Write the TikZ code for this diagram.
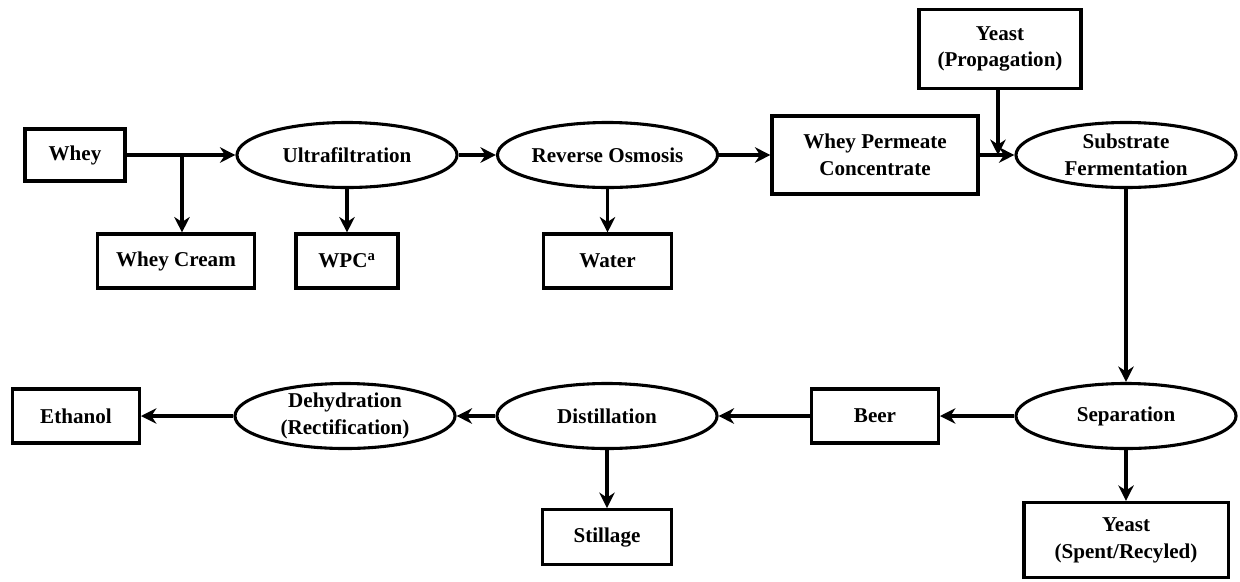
\documentclass[tikz,border=0pt]{standalone}
\usepackage{fontspec}
\setmainfont{Liberation Serif}
\usetikzlibrary{arrows.meta,positioning,shapes.geometric}
\tikzset{
  box/.style={rectangle, draw=black, line width=2.2pt, inner sep=0pt, align=center,
    font=\fontsize{15}{19}\selectfont\bfseries},
  proc/.style={ellipse, draw=black, line width=2.2pt, inner sep=0pt, align=center,
    minimum width=5.5cm, minimum height=1.625cm,
    font=\fontsize{15}{19}\selectfont\bfseries},
  link/.style={-{Stealth[length=11pt,width=11pt]}, line width=2.2pt},
}
\begin{document}
\begin{tikzpicture}[x=0.025cm, y=-0.025cm]
  \useasboundingbox (0,0) rectangle (1240,581);
  % upper row
  \node[box, minimum width=2.5cm, minimum height=1.3cm] (whey) at (75,155) {Whey};
  \node[proc] (ultra) at (347,155) {Ultrafiltration};
  \node[proc] (ro) at (607.5,155) {Reverse Osmosis};
  \node[box, minimum width=5.15cm, minimum height=1.95cm] (wpc) at (875,155) {Whey Permeate\\Concentrate};
  \node[proc] (subf) at (1126,155) {Substrate\\Fermentation};
  \node[box, minimum width=4.05cm, minimum height=1.98cm] (yprop) at (1000,49) {Yeast\\(Propagation)};
  % by-products
  \node[box, minimum width=3.92cm, minimum height=1.35cm] (cream) at (176,261) {Whey Cream};
  \node[box, minimum width=2.55cm, minimum height=1.35cm] (wpca) at (347,261) {WPC\textsuperscript{a}};
  \node[box, minimum width=3.22cm, minimum height=1.35cm] (water) at (607.5,261) {Water};
  % lower row
  \node[proc] (sep) at (1126,416) {Separation};
  \node[box, minimum width=3.17cm, minimum height=1.35cm] (beer) at (875,416) {Beer};
  \node[proc] (dist) at (607,416) {Distillation};
  \node[proc] (dehy) at (345,416) {Dehydration\\(Rectification)};
  \node[box, minimum width=3.17cm, minimum height=1.35cm] (eth) at (76,416) {Ethanol};
  \node[box, minimum width=3.22cm, minimum height=1.37cm] (still) at (607,537) {Stillage};
  \node[box, minimum width=5.1cm, minimum height=1.88cm] (yspent) at (1126,540) {Yeast\\(Spent/Recyled)};
  % junctions
  \coordinate (br) at (182,155);
  \coordinate (yj) at (998,155);
  % connectors
  \draw[link] (whey) -- (ultra);
  \draw[link] (br) -- (br |- cream.north);
  \draw[link] (ultra) -- (wpca);
  \draw[link] (ultra) -- (ro);
  \draw[link] (ro) -- (water);
  \draw[link] (ro) -- (wpc);
  \draw[link] (wpc) -- (subf);
  \draw[link] (yprop.south -| yj) -- (yj);
  \draw[link] (subf) -- (sep);
  \draw[link] (sep) -- (beer);
  \draw[link] (beer) -- (dist);
  \draw[link] (dist) -- (dehy);
  \draw[link] (dehy) -- (eth);
  \draw[link] (dist) -- (still);
  \draw[link] (sep) -- (yspent);
\end{tikzpicture}
\end{document}
